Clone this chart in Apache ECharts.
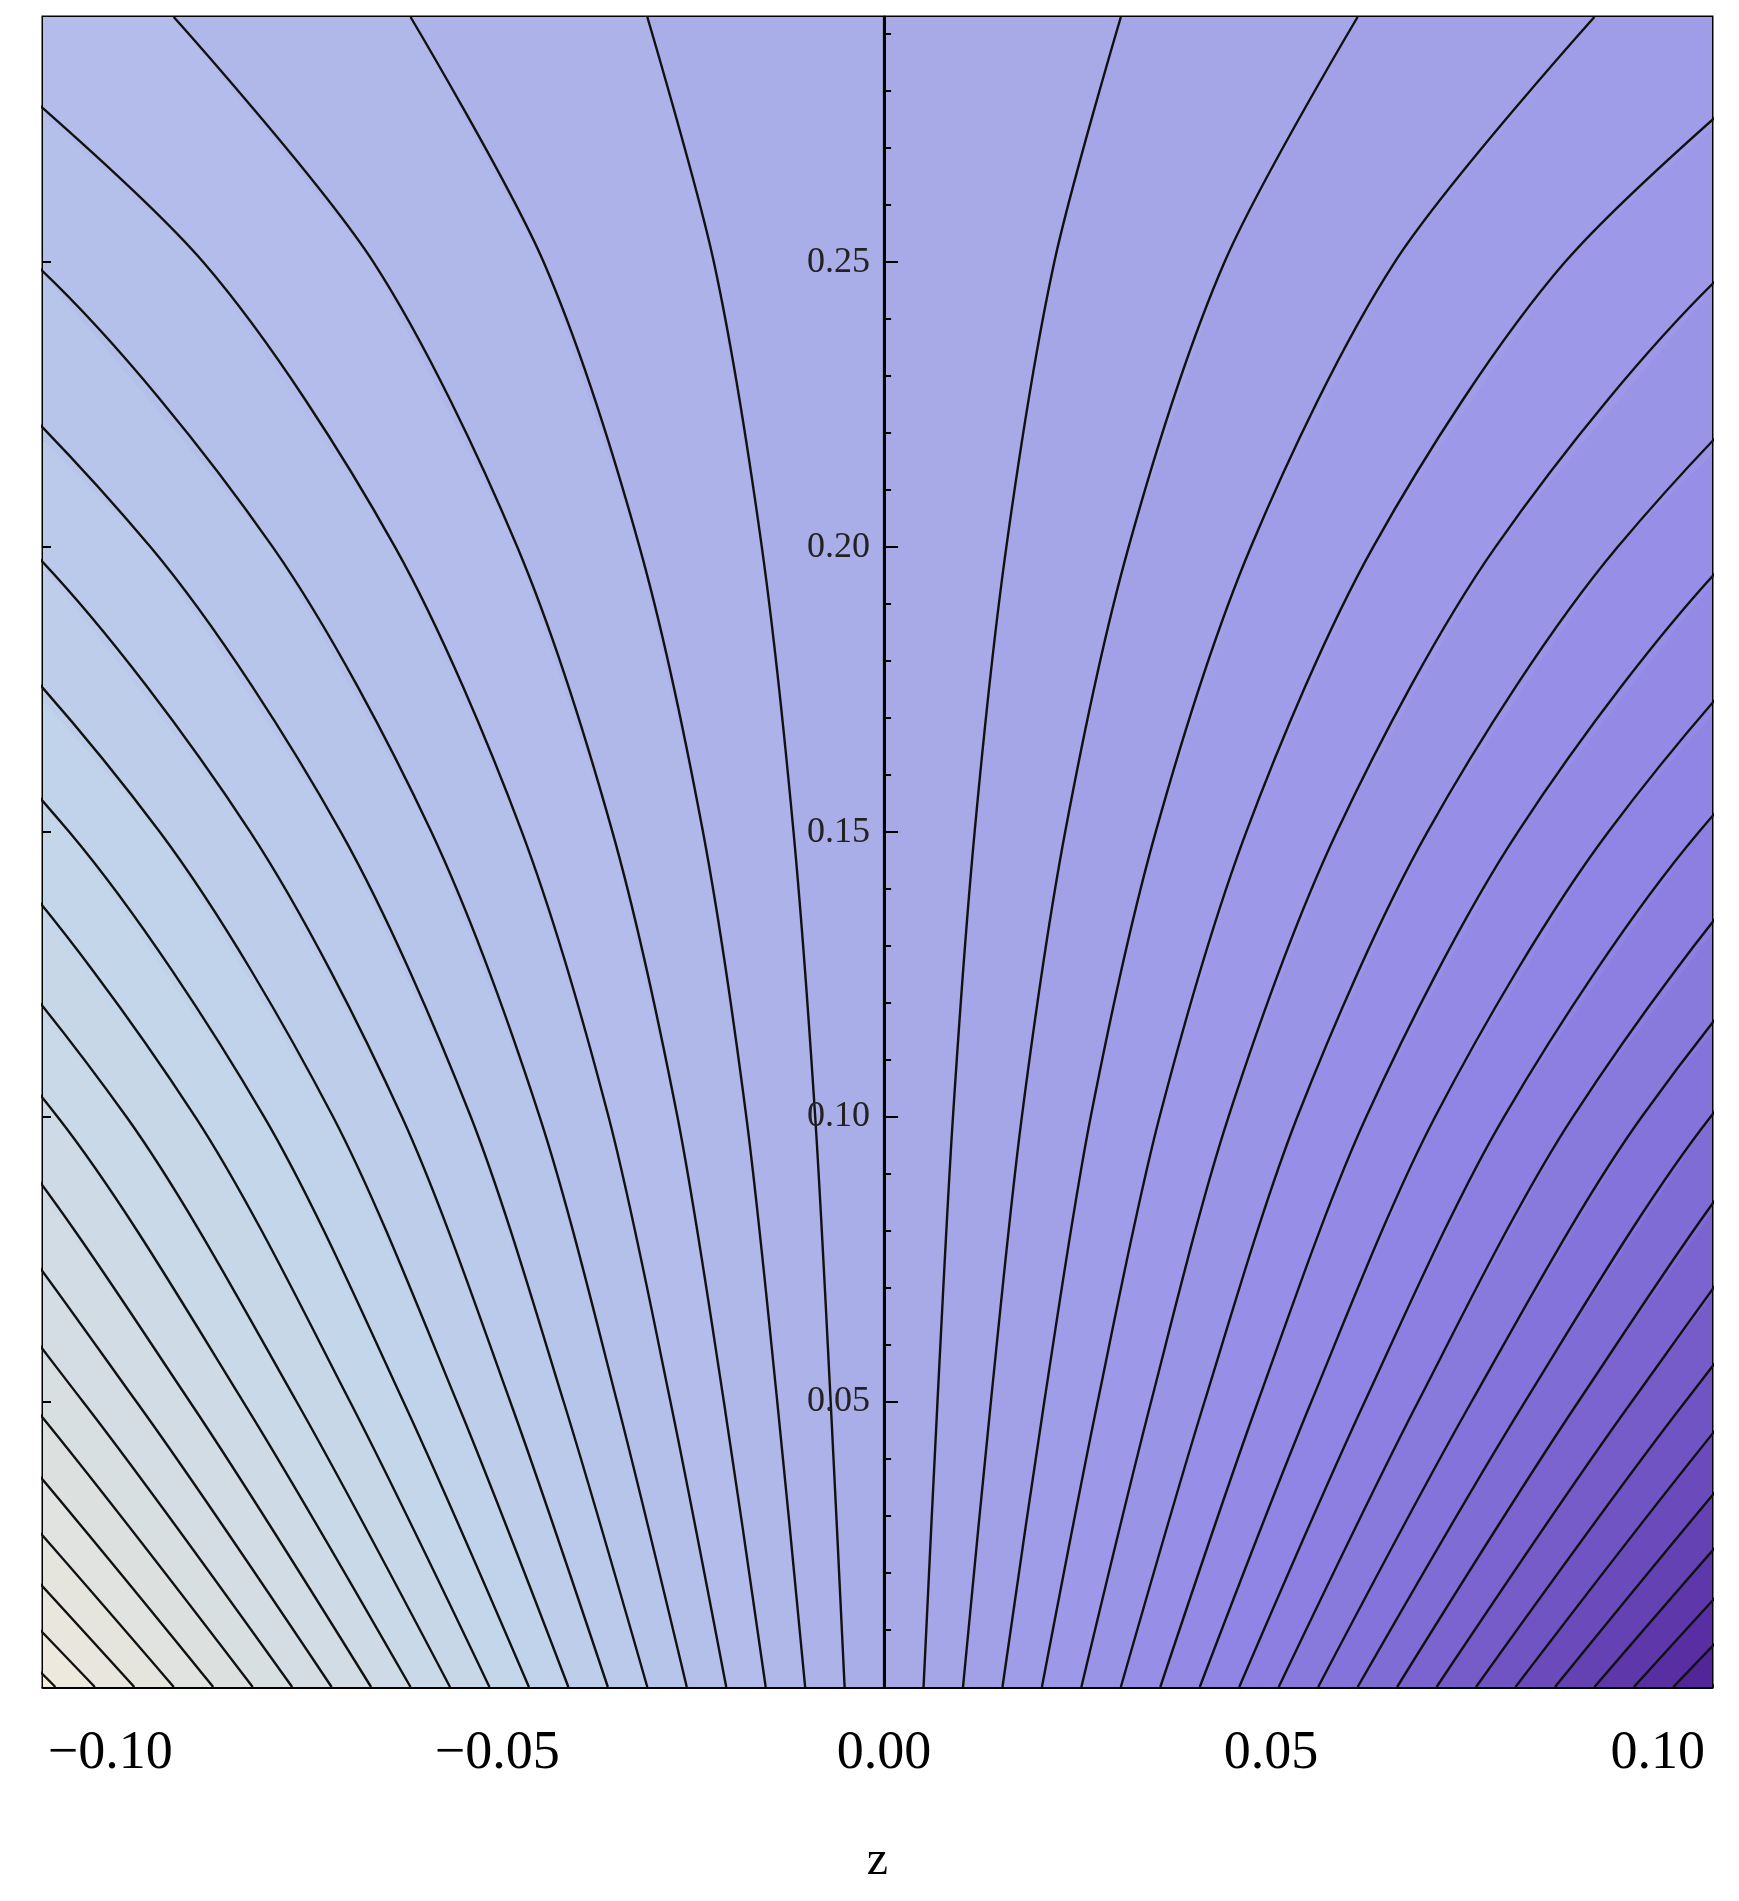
<!DOCTYPE html>
<html>
<head>
<meta charset="utf-8">
<script src="https://cdn.jsdelivr.net/npm/echarts@6/dist/echarts.min.js"></script>
<style>html,body{margin:0;background:#fff}#chart{width:1739px;height:1901px}</style>
</head>
<body>
<div id="chart"></div>
<script>
// rows (r) where the contour spacing was read, and the spacing in z between adjacent contours
var rows = [0, 0.05, 0.10, 0.15, 0.20, 0.25, 0.293];
var spacing = [0.0051, 0.0069, 0.0089, 0.0117, 0.0158, 0.022, 0.0306];
// contour indices (line k sits at z = k * spacing)
var levels = [];
for (var k = -22; k <= 22; k++) levels.push(k);
var xTicks = [-0.10, -0.05, 0, 0.05, 0.10];
var yTicks = [0.05, 0.10, 0.15, 0.20, 0.25];
var xMinor = [-0.10, -0.09, -0.08, -0.07, -0.06, -0.05, -0.04, -0.03, -0.02, -0.01, 0, 0.01, 0.02, 0.03, 0.04, 0.05, 0.06, 0.07, 0.08, 0.09, 0.10];
var yMinor = [0.01, 0.02, 0.03, 0.04, 0.05, 0.06, 0.07, 0.08, 0.09, 0.10, 0.11, 0.12, 0.13, 0.14, 0.15, 0.16, 0.17, 0.18, 0.19, 0.20, 0.21, 0.22, 0.23, 0.24, 0.25, 0.26, 0.27, 0.28, 0.29];

var stops = [[-22, [243, 236, 218]], [-15, [214, 222, 226]], [-9, [194, 213, 234]], [-4, [180, 190, 234]],
  [0, [169, 172, 232]], [4, [158, 155, 232]], [8, [146, 136, 230]], [12, [130, 112, 216]],
  [16, [110, 80, 192]], [22, [72, 22, 140]]];
function colorAt(v) {
  for (var i = 1; i < stops.length; i++) {
    if (v <= stops[i][0]) {
      var a = stops[i - 1], b = stops[i], t = (v - a[0]) / (b[0] - a[0]);
      var c = a[1].map(function (x, j) { return Math.round(x + (b[1][j] - x) * t); });
      return 'rgb(' + c.join(',') + ')';
    }
  }
  return 'rgb(72,22,140)';
}
function linePts(k) {
  return rows.map(function (r, i) { return [k * spacing[i], r]; });
}

var series = [];
// filled bands between neighbouring contours
series.push({
  type: 'custom',
  clip: true,
  silent: true,
  data: levels.slice(0, -1),
  renderItem: function (params, api) {
    var k = api.value(0);
    var a = linePts(k).map(function (p) { return api.coord(p); });
    var b = linePts(k + 1).map(function (p) { return api.coord(p); }).reverse();
    return { type: 'polygon', shape: { points: a.concat(b) },
      style: { fill: colorAt(k + 0.5), stroke: colorAt(k + 0.5), lineWidth: 1 } };
  },
  encode: { x: 0 }
});
levels.forEach(function (k) {
  series.push({
    type: 'line', data: linePts(k), showSymbol: false, silent: true, clip: true,
    smooth: 0.3, lineStyle: { color: '#111', width: 2.4 }, z: 3
  });
});

var font = 'Liberation Serif';
var X0 = -0.1087, X1 = 0.107, GL = 43, GR = 27;
var zeroOffset = -(0 - X0) / (X1 - X0) * (1739 - GL - GR);
var chart = echarts.init(document.getElementById('chart'));
chart.setOption({
  animation: false,
  grid: { left: GL, right: GR, top: 17, bottom: 214, show: true, borderColor: '#000', borderWidth: 3 },
  xAxis: [{
    type: 'value', min: X0, max: X1, position: 'bottom',
    name: 'z', nameLocation: 'middle', nameGap: 150,
    nameTextStyle: { fontFamily: font, fontSize: 48, color: '#000' },
    axisLine: { show: true, onZero: false, lineStyle: { color: '#000', width: 3 } },
    axisTick: { show: true, inside: true, length: 14, customValues: xTicks, lineStyle: { color: '#000', width: 2 } },
    axisLabel: { customValues: xTicks, margin: 40, fontFamily: font, fontSize: 54, color: '#000',
      formatter: function (v) { return (v < 0 ? '\u2212' : '') + Math.abs(v).toFixed(2); } },
    splitLine: { show: false }
  }, {
    type: 'value', min: X0, max: X1, position: 'bottom',
    axisLine: { show: false, onZero: false },
    axisTick: { show: true, inside: true, length: 7, customValues: xMinor, lineStyle: { color: '#000', width: 2 } },
    axisLabel: { show: false }, splitLine: { show: false }
  }],
  yAxis: [{
    type: 'value', min: 0, max: 0.293, position: 'left', offset: zeroOffset,
    axisLine: { show: true, onZero: false, lineStyle: { color: '#000', width: 3 } },
    axisTick: { show: true, inside: true, length: 14, customValues: yTicks, lineStyle: { color: '#000', width: 2 } },
    axisLabel: { customValues: yTicks, margin: 14, fontFamily: font, fontSize: 36, color: '#222',
      formatter: function (v) { return v.toFixed(2); } },
    splitLine: { show: false }, z: 10
  }, {
    type: 'value', min: 0, max: 0.293, position: 'left', offset: zeroOffset,
    axisLine: { show: false, onZero: false },
    axisTick: { show: true, inside: true, length: 7, customValues: yMinor, lineStyle: { color: '#000', width: 2 } },
    axisLabel: { show: false }, splitLine: { show: false }, z: 10
  }, {
    type: 'value', min: 0, max: 0.293, position: 'left', offset: 0,
    axisLine: { show: false, onZero: false },
    axisTick: { show: true, inside: true, length: 8, customValues: yTicks, lineStyle: { color: '#000', width: 2 } },
    axisLabel: { show: false }, splitLine: { show: false }, z: 10
  }],
  series: series
});
</script>
</body>
</html>
